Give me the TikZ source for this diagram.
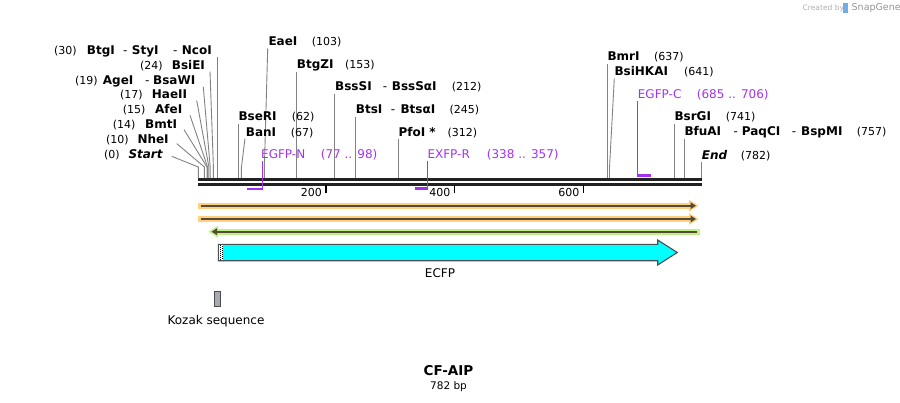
\documentclass[tikz,border=0pt]{standalone}
\usepackage{fontspec}
\setmainfont{DejaVu Sans}
\usetikzlibrary{arrows.meta}
\definecolor{cutgray}{RGB}{130,130,130}
\definecolor{bbone}{RGB}{34,34,34}
\definecolor{primc}{RGB}{163,50,240}
\definecolor{hlorange}{RGB}{255,208,128}
\definecolor{hlgreen}{RGB}{190,240,135}
\definecolor{featline}{RGB}{85,75,55}
\definecolor{ecfpc}{RGB}{0,255,255}
\definecolor{ecfpline}{RGB}{70,80,85}
\definecolor{kozakc}{RGB}{165,170,180}
\definecolor{sgray}{RGB}{175,175,175}
\definecolor{sblue}{RGB}{110,175,230}
\begin{document}
\begin{tikzpicture}[x=1pt,y=-1pt,
  enz/.style={anchor=base west, inner sep=0pt, font=\fontsize{12}{14}\selectfont\bfseries},
  enzi/.style={anchor=base west, inner sep=0pt, font=\fontsize{12}{14}\selectfont\bfseries\itshape},
  num/.style={anchor=base west, inner sep=0pt, font=\fontsize{11}{13}\selectfont},
  dsh/.style={anchor=base west, inner sep=0pt, font=\fontsize{12}{14}\selectfont},
  prim/.style={anchor=base west, inner sep=0pt, text=primc, font=\fontsize{12}{14}\selectfont},
  cutline/.style={draw=cutgray, line width=0.9pt},
  primv/.style={draw=primc, line width=1.3pt},
  primh/.style={draw=primc, line width=2.4pt},
  bb/.style={draw=bbone, line width=2.6pt},
  tick/.style={draw=black, line width=1.6pt},
  ticklab/.style={anchor=base east, inner sep=0pt, font=\fontsize{11}{13}\selectfont},
  plain/.style={inner sep=0pt, font=\fontsize{12}{14}\selectfont}
]
\useasboundingbox (0,0) rectangle (900,402);

% ---- created by
\node[anchor=base west, inner sep=0pt, text=sgray, font=\fontsize{7.5}{9}\selectfont] (cb) at (802.5,10.5) {Created by};
\fill[sblue] (843,3) rectangle (847.5,13);
\node[anchor=base west, inner sep=0pt, text=sgray!85!black, font=\fontsize{9.5}{11}\selectfont] (sg) at (851.5,10.8) {SnapGene};

% ---- backbone
\coordinate (bbL1) at (198,179.6); \coordinate (bbR1) at (701.7,179.6);
\coordinate (bbL2) at (198,184.6); \coordinate (bbR2) at (701.7,184.6);
\draw[bb] (bbL1) -- (bbR1);
\draw[bb] (bbL2) -- (bbR2);

% ticks
\coordinate (t2a) at (326,185); \coordinate (t2b) at (326,192.7);
\coordinate (t4a) at (454.5,185); \coordinate (t4b) at (454.5,192.7);
\coordinate (t6a) at (583.5,185); \coordinate (t6b) at (583.5,192.7);
\draw[tick] (t2a) -- (t2b); \draw[tick] (t4a) -- (t4b); \draw[tick] (t6a) -- (t6b);
\node[ticklab] (l200) at (322,196) {200};
\node[ticklab] (l400) at (450.5,196) {400};
\node[ticklab] (l600) at (579.5,196) {600};

% ---- left cluster
\node[num] (n30) at (54,54) {(30)};
\node[enz] (BtgI) at (86.7,54) {BtgI};
\node[dsh] (d30a) at (123,54) {-};
\node[enz] (StyI) at (131.7,54) {StyI};
\node[dsh] (d30b) at (173,54) {-};
\node[enz] (NcoI) at (181.7,54) {NcoI};
\coordinate (NcoIt) at (217.3,57.3); \coordinate (NcoIb) at (217.3,178);
\draw[cutline] (NcoIt) -- (NcoIb);

\node[num] (n24) at (140,69) {(24)};
\node[enz] (BsiEI) at (171.7,69) {BsiEI};
\coordinate (BsiEIt) at (210,71.5); \coordinate (BsiEIm) at (213.4,167); \coordinate (BsiEIb) at (213.4,178);
\draw[cutline] (BsiEIt) -- (BsiEIm) -- (BsiEIb);

\node[num] (n19) at (75,84) {(19)};
\node[enz] (AgeI) at (102.7,84) {AgeI};
\node[dsh] (d19) at (145,84) {-};
\node[enz] (BsaWI) at (153,84) {BsaWI};
\coordinate (AgeIt) at (203.3,87); \coordinate (AgeIm) at (210.2,167); \coordinate (AgeIb) at (210.2,178);
\draw[cutline] (AgeIt) -- (AgeIm) -- (AgeIb);

\node[num] (n17) at (120,98.8) {(17)};
\node[enz] (HaeII) at (151.7,98.8) {HaeII};
\coordinate (HaeIIt) at (196.7,100.5); \coordinate (HaeIIm) at (208.9,167); \coordinate (HaeIIb) at (208.9,178);
\draw[cutline] (HaeIIt) -- (HaeIIm) -- (HaeIIb);

\node[num] (n15) at (122.7,113.6) {(15)};
\node[enz] (AfeI) at (155,113.6) {AfeI};
\coordinate (AfeIt) at (190,115.3); \coordinate (AfeIm) at (207.6,167); \coordinate (AfeIb) at (207.6,178);
\draw[cutline] (AfeIt) -- (AfeIm) -- (AfeIb);

\node[num] (n14) at (112.7,128.4) {(14)};
\node[enz] (BmtI) at (145,128.4) {BmtI};
\coordinate (BmtIt) at (184,129.6); \coordinate (BmtIm) at (207,167); \coordinate (BmtIb) at (207,178);
\draw[cutline] (BmtIt) -- (BmtIm) -- (BmtIb);

\node[num] (n10) at (106,143.2) {(10)};
\node[enz] (NheI) at (137.3,143.2) {NheI};
\coordinate (NheIt) at (176.7,143.6); \coordinate (NheIm) at (204.4,167); \coordinate (NheIb) at (204.4,178);
\draw[cutline] (NheIt) -- (NheIm) -- (NheIb);

\node[num] (n0) at (104,158.3) {(0)};
\node[enzi] (Start) at (128.3,158.3) {Start};
\coordinate (Startt) at (171.7,156.3); \coordinate (Startm) at (198.3,167); \coordinate (Startb) at (198.3,178);
\draw[cutline] (Startt) -- (Startm) -- (Startb);

% ---- middle
\node[enz] (EaeI) at (268.3,45.7) {EaeI};
\node[num] (n103) at (311.7,45.7) {(103)};
\coordinate (EaeIt) at (267.7,48.5); \coordinate (EaeIm) at (264.3,170); \coordinate (EaeIb) at (264.3,178);
\draw[cutline] (EaeIt) -- (EaeIm) -- (EaeIb);

\node[enz] (BtgZI) at (296.7,68.3) {BtgZI};
\node[num] (n153) at (345,68.3) {(153)};
\coordinate (BtgZIt) at (296.3,71.5); \coordinate (BtgZIb) at (296.3,178);
\draw[cutline] (BtgZIt) -- (BtgZIb);

\node[enz] (BssSI) at (335,90.7) {BssSI};
\node[dsh] (d212) at (382.7,90.7) {-};
\node[enz] (BssSaI) at (391.7,90.7) {BssSαI};
\node[num] (n212) at (451.7,90.7) {(212)};
\coordinate (BssSIt) at (334.3,93.5); \coordinate (BssSIb) at (334.3,178);
\draw[cutline] (BssSIt) -- (BssSIb);

\node[enz] (BtsI) at (355.7,113.3) {BtsI};
\node[dsh] (d245) at (390.7,113.3) {-};
\node[enz] (BtsaI) at (400.3,113.3) {BtsαI};
\node[num] (n245) at (449.3,113.3) {(245)};
\coordinate (BtsIt) at (355.3,116.5); \coordinate (BtsIb) at (355.3,178);
\draw[cutline] (BtsIt) -- (BtsIb);

\node[enz] (BseRI) at (238.3,120.7) {BseRI};
\node[num] (n62) at (291.7,120.7) {(62)};
\coordinate (BseRIt) at (238.3,123.5); \coordinate (BseRIb) at (238.3,178);
\draw[cutline] (BseRIt) -- (BseRIb);

\node[enz] (BanI) at (245.7,136) {BanI};
\node[num] (n67) at (290.7,136) {(67)};
\coordinate (BanIt) at (245,138.5); \coordinate (BanIm) at (241.4,167.5); \coordinate (BanIb) at (241.4,178);
\draw[cutline] (BanIt) -- (BanIm) -- (BanIb);

\node[enz] (PfoI) at (398.3,136) {PfoI *};
\node[num] (n312) at (447.3,136) {(312)};
\coordinate (PfoIt) at (398.3,138.5); \coordinate (PfoIb) at (398.3,178);
\draw[cutline] (PfoIt) -- (PfoIb);

% primers
\node[prim] (EGFPN) at (261,158.3) {EGFP-N};
\node[prim] (EGFPNr) at (320.7,158.3) {(77 .. 98)};
\coordinate (EGFPNt) at (262.3,160.5); \coordinate (EGFPNc) at (262.3,188.8); \coordinate (EGFPNe) at (247.3,188.8);
\draw[primv] (EGFPNt) -- (EGFPNc);
\draw[primh] ([xshift=0.65pt]EGFPNc) -- (EGFPNe);

\node[prim] (EXFPR) at (427.3,158.3) {EXFP-R};
\node[prim] (EXFPRr) at (486.7,158.3) {(338 .. 357)};
\coordinate (EXFPRt) at (427.7,160.5); \coordinate (EXFPRc) at (427.7,188.5); \coordinate (EXFPRe) at (415,188.5);
\draw[primv] (EXFPRt) -- (EXFPRc);
\draw[primh] ([xshift=0.65pt]EXFPRc) -- (EXFPRe);

% ---- right
\node[enz] (BmrI) at (607.3,60) {BmrI};
\node[num] (n637) at (654,60) {(637)};
\coordinate (BmrIt) at (607.3,63.5); \coordinate (BmrIb) at (607.3,178);
\draw[cutline] (BmrIt) -- (BmrIb);

\node[enz] (BsiHKAI) at (614.3,75) {BsiHKAI};
\node[num] (n641) at (684,75) {(641)};
\coordinate (BsiHKAIt) at (614.3,78.5); \coordinate (BsiHKAIm) at (609.5,168); \coordinate (BsiHKAIb) at (609.5,178);
\draw[cutline] (BsiHKAIt) -- (BsiHKAIm) -- (BsiHKAIb);

\node[prim] (EGFPC) at (637.7,98.3) {EGFP-C};
\node[prim] (EGFPCr) at (696.7,98.3) {(685 .. 706)};
\coordinate (EGFPCt) at (637.7,101); \coordinate (EGFPCc) at (637.7,175.5); \coordinate (EGFPCe) at (651,175.5);
\draw[primv] (EGFPCt) -- (EGFPCc);
\draw[primh] ([xshift=-0.65pt]EGFPCc) -- (EGFPCe);

\node[enz] (BsrGI) at (674.3,120.7) {BsrGI};
\node[num] (n741) at (725.7,120.7) {(741)};
\coordinate (BsrGIt) at (674.3,123.5); \coordinate (BsrGIb) at (674.3,178);
\draw[cutline] (BsrGIt) -- (BsrGIb);

\node[enz] (BfuAI) at (684.3,135.7) {BfuAI};
\node[dsh] (d757a) at (733.3,135.7) {-};
\node[enz] (PaqCI) at (741.7,135.7) {PaqCI};
\node[dsh] (d757b) at (791.7,135.7) {-};
\node[enz] (BspMI) at (801,135.7) {BspMI};
\node[num] (n757) at (856.7,135.7) {(757)};
\coordinate (BfuAIt) at (684.5,138.5); \coordinate (BfuAIb) at (684.5,178);
\draw[cutline] (BfuAIt) -- (BfuAIb);

\node[enzi] (End) at (701.7,159) {End};
\node[num] (n782) at (740.7,159) {(782)};
\coordinate (Endt) at (701.7,161.5); \coordinate (Endb) at (701.7,178);
\draw[cutline] (Endt) -- (Endb);

% ---- feature arrows
\coordinate (o1L) at (198,205.7); \coordinate (o1R) at (692,205.7);
\draw[line width=6pt, hlorange] (o1L) -- (o1R);
\fill[hlorange] (689,199.7) -- (698.5,205.7) -- (689,211.7) -- cycle;
\draw[line width=2pt, featline, -{Triangle[length=5.5pt,width=6.5pt]}] (200.5,205.7) -- (696,205.7);

\coordinate (o2L) at (198,219); \coordinate (o2R) at (692,219);
\draw[line width=6pt, hlorange] (o2L) -- (o2R);
\fill[hlorange] (689,213) -- (698.5,219) -- (689,225) -- cycle;
\draw[line width=2pt, featline, -{Triangle[length=5.5pt,width=6.5pt]}] (200.5,219) -- (696,219);

\coordinate (gL) at (215,231.7); \coordinate (gR) at (699.5,231.7);
\draw[line width=6pt, hlgreen] (gL) -- (gR);
\fill[hlgreen] (218,225.7) -- (208.5,231.7) -- (218,237.7) -- cycle;
\draw[line width=2pt, featline, -{Triangle[length=5.5pt,width=6.5pt]}] (697,231.7) -- (211.5,231.7);

% ECFP
\filldraw[fill=ecfpc, draw=ecfpline, line width=1.1pt, line join=miter]
  (218.3,244.3) -- (657.7,244.3) -- (657.7,240) -- (677.3,252.5) -- (657.7,265) -- (657.7,260.7) -- (218.3,260.7) -- cycle;
\fill[white] (219,245) rectangle (223.3,260);
\draw[black, line width=1pt, dash pattern=on 1pt off 1pt] (220,245) -- (220,260);
\draw[black, line width=1pt, dash pattern=on 1pt off 1pt] (222.3,246) -- (222.3,260);
\node[plain] (ECFP) at (440,273) {ECFP};

% Kozak
\filldraw[fill=kozakc, draw=black!70, line width=0.8pt] (214.3,291.7) rectangle (220.7,306.7);
\node[plain] (Kozak) at (216,321) {Kozak sequence};

% title
\node[inner sep=0pt, font=\fontsize{13.5}{15}\selectfont\bfseries, anchor=base] (title) at (448.5,375.5) {CF-AIP};
\node[inner sep=0pt, font=\fontsize{10.5}{12}\selectfont, anchor=base] (bp) at (448.5,389) {782 bp};
\end{tikzpicture}
\end{document}
